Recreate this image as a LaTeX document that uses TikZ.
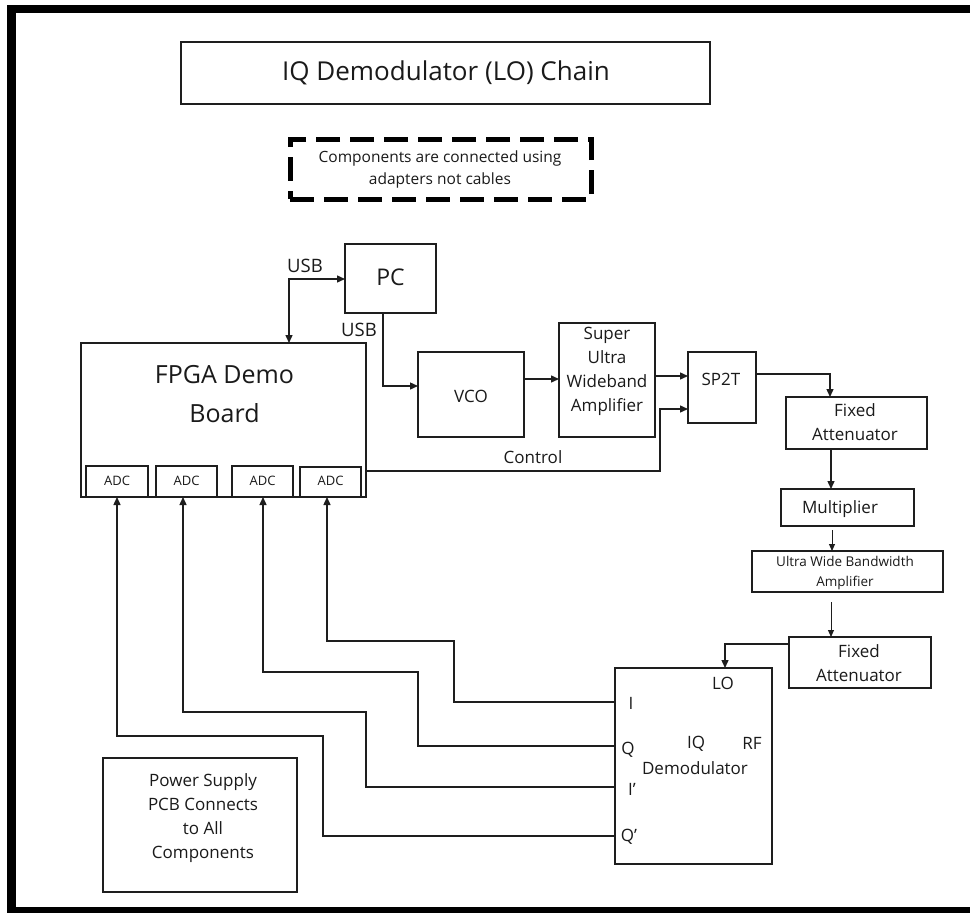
\documentclass[tikz,border=0pt]{standalone}
\usepackage{fontspec}
\setmainfont{Open Sans}
\usetikzlibrary{arrows.meta,calc}
\definecolor{ink}{HTML}{1E1E1E}
\definecolor{txt}{HTML}{1A1A1A}
\begin{document}
\begin{tikzpicture}[x=1pt,y=-1pt,
  box/.style={draw=ink,line width=1.4pt,rectangle,inner sep=0pt,outer sep=0pt},
  lbl/.style={text=txt,inner sep=0pt,align=center,font=\fontsize{17}{24}\selectfont},
  conn/.style={draw=ink,line width=1.4pt},
  arr/.style={conn,-{Triangle[length=8pt,width=7pt]}},
  sarr/.style={draw=ink,line width=1pt,-{Triangle[length=7pt,width=6pt]}}]
\useasboundingbox (0,0) rectangle (970,913);
\fill[white] (0,0) rectangle (970,913);
% frame
\draw[line width=8.5pt,line join=miter] (985,9) -- (11.5,9) -- (11.5,911) -- (985,911);

% title and note
\node[box,minimum width=529,minimum height=62] (title) at (445.5,73) {};
\node[lbl,font=\fontsize{26}{30}\selectfont] (titletext) at (446,73) {IQ Demodulator (LO) Chain};
\node[draw=black,line width=5pt,dash pattern=on 24pt off 10pt,minimum width=301,minimum height=60,inner sep=0pt] (note) at (440.5,169) {};
\node[lbl,font=\fontsize{15.5}{22}\selectfont] (notetext) at (440,169) {Components are connected using\\adapters not cables};

% PC and FPGA
\node[box,minimum width=91,minimum height=69] (pc) at (390.5,278.5) {};
\node[lbl,font=\fontsize{23}{28}\selectfont] (pctext) at (390.5,277) {PC};
\node[box,minimum width=285,minimum height=154] (fpga) at (223.5,420) {};
\node[lbl,font=\fontsize{25}{39}\selectfont] (fpgatext) at (224.5,394) {FPGA Demo\\Board};
\node[box,minimum width=62,minimum height=31] (adc1) at (117,481.5) {};
\node[box,minimum width=61,minimum height=31] (adc2) at (186.5,481.5) {};
\node[box,minimum width=61,minimum height=31] (adc3) at (262.5,481.5) {};
\node[box,minimum width=61,minimum height=30] (adc4) at (330.5,482) {};
\node[lbl,font=\fontsize{13}{14}\selectfont] (adct1) at (117,481) {ADC};
\node[lbl,font=\fontsize{13}{14}\selectfont] (adct2) at (186.5,481) {ADC};
\node[lbl,font=\fontsize{13}{14}\selectfont] (adct3) at (262.5,481) {ADC};
\node[lbl,font=\fontsize{13}{14}\selectfont] (adct4) at (330.5,481) {ADC};

% chain
\node[box,minimum width=106,minimum height=85] (vco) at (471,394.5) {};
\node[lbl] (vcotext) at (471,396) {VCO};
\node[box,minimum width=96,minimum height=114] (suwa) at (607,380) {};
\node[lbl] (suwatext) at (607,371.5) {Super\\Ultra\\Wideband\\Amplifier};
\node[box,minimum width=68,minimum height=71] (sp2t) at (722,387.5) {};
\node[lbl] (sp2ttext) at (721,379) {SP2T};
\node[box,minimum width=141,minimum height=52] (fa1) at (856.5,423) {};
\node[lbl] (fa1text) at (855,422.5) {Fixed\\Attenuator};
\node[box,minimum width=133,minimum height=37] (mult) at (847.5,507.5) {};
\node[lbl] (multtext) at (840,509) {Multiplier};
\node[box,minimum width=191,minimum height=41] (uwb) at (847.5,571.5) {};
\node[lbl,font=\fontsize{13.5}{20}\selectfont] (uwbtext) at (845,573) {Ultra Wide Bandwidth\\Amplifier};
\node[box,minimum width=142,minimum height=51] (fa2) at (860,662.5) {};
\node[lbl] (fa2text) at (859,663) {Fixed\\Attenuator};

% IQ demodulator
\node[box,minimum width=157,minimum height=196] (iq) at (693.5,766) {};
\node[lbl] (lo) at (723,683) {LO};
\node[lbl] (pi) at (631,703) {I};
\node[lbl] (pq) at (628,750) {Q};
\node[lbl] (iqt) at (696,744) {IQ};
\node[lbl] (rf) at (752,743) {RF};
\node[lbl] (demod) at (695,768) {Demodulator};
\node[lbl] (pip) at (632,789) {I’};
\node[lbl] (pqp) at (629,837) {Q’};

% power supply
\node[box,minimum width=194,minimum height=134] (power) at (200,825) {};
\node[lbl] (powertext) at (203,818.5) {Power Supply\\PCB Connects\\to All\\Components};

% connectors
\draw[conn,{Triangle[length=8pt,width=7pt]}-{Triangle[length=8pt,width=7pt]}] (pc.west |- 0,279) -| (fpga.north -| 289,0);
\node[lbl,font=\fontsize{18.5}{22}\selectfont] (usb1) at (305,266) {USB};
\draw[arr] (pc.south -| 383,0) |- (vco.west |- 0,386);
\node[lbl,font=\fontsize{18.5}{22}\selectfont] (usb2) at (359,330) {USB};
\draw[arr] (vco.east |- 0,379) -- (suwa.west |- 0,379);
\draw[arr] (suwa.east |- 0,376) -- (sp2t.west |- 0,376);
\draw[arr] (fpga.east |- 0,471) -| (660,409) -- (sp2t.west |- 0,409);
\node[lbl] (control) at (533,457) {Control};
\draw[arr] (sp2t.east |- 0,374) -| (fa1.north -| 830,0);
\draw[arr] (fa1.south -| 831,0) -- (mult.north -| 831,0);
\draw[sarr,shorten <=4pt] (mult.south -| 832,0) -- (uwb.north -| 832,0);
\draw[sarr,shorten <=10pt] (uwb.south -| 831,0) -- (fa2.north -| 831,0);
\draw[arr] (fa2.west |- 0,644) -| (iq.north -| 725,0);

\draw[arr] (iq.west |- 0,702) -| (454,641) -| (adc4.south -| 327,0);
\draw[arr] (iq.west |- 0,746) -| (418,672) -| (adc3.south -| 263,0);
\draw[arr] (iq.west |- 0,787) -| (366,712) -| (adc2.south -| 183,0);
\draw[arr] (iq.west |- 0,836) -| (323,736) -| (adc1.south -| 117,0);
\end{tikzpicture}
\end{document}
